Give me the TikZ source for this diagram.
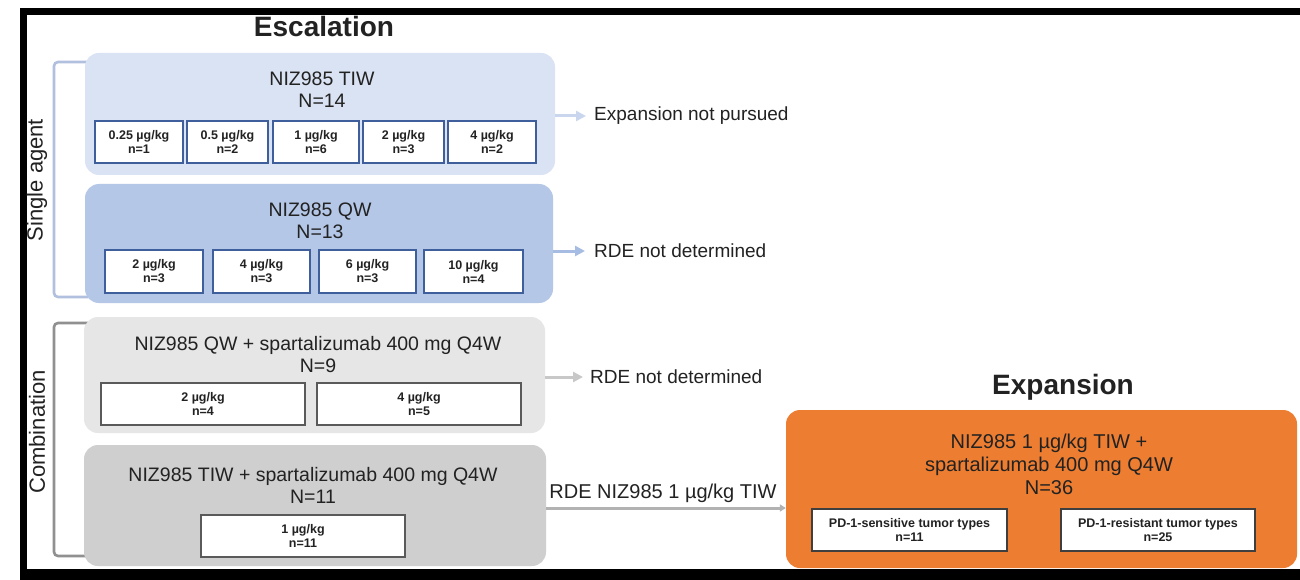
\documentclass[tikz,border=0pt]{standalone}
\usepackage{fontspec}
\setmainfont{Liberation Sans}
\usetikzlibrary{arrows.meta}
\definecolor{bluelight}{HTML}{DAE3F3}
\definecolor{bluemid}{HTML}{B4C7E7}
\definecolor{greylight}{HTML}{E6E6E6}
\definecolor{greymid}{HTML}{D0CFCF}
\definecolor{orangebox}{HTML}{ED7D31}
\definecolor{blueline}{HTML}{3F5E9C}
\definecolor{greyline}{HTML}{5A5A5A}
\definecolor{txt}{HTML}{222222}
\definecolor{arrA}{HTML}{C9D6EE}
\definecolor{arrB}{HTML}{A6BCE2}
\definecolor{arrC}{HTML}{C8C8C8}
\definecolor{arrD}{HTML}{B2B2B2}
\definecolor{brA}{HTML}{B0C0DE}
\definecolor{brB}{HTML}{909090}
\tikzset{
  grp/.style={rounded corners=14pt, draw=none, inner sep=0pt},
  ttl/.style={font=\fontsize{19.5}{22}\selectfont, text=txt, align=center, inner sep=0pt},
  sub/.style={draw, fill=white, line width=1.4pt, inner sep=0pt, align=center,
              font=\bfseries\fontsize{12.5}{14}\selectfont, text=txt},
  side/.style={font=\fontsize{19}{22}\selectfont, text=txt, inner sep=0pt, anchor=west},
  arr/.style={line width=3pt, -{Triangle[length=10pt,width=10pt]}},
  brk/.style={line width=2.6pt, rounded corners=4pt},
  head/.style={font=\bfseries\fontsize{28}{32}\selectfont, text=txt, inner sep=0pt},
  rot/.style={font=\fontsize{22}{26}\selectfont, text=txt, rotate=90, inner sep=0pt}
}
\begin{document}
\begin{tikzpicture}[x=1pt,y=-1pt]
\useasboundingbox (0,0) rectangle (1300,580);
\fill[white] (0,0) rectangle (1300,580);
% frame
\fill[black] (20,8) rectangle (1300,15);
\fill[black] (20,8) rectangle (27,580);
\fill[black] (20,569) rectangle (1300,580);

% brackets
\draw[brk, brA] (88,62) -- (54,62) -- (54,297) -- (88,297);
\draw[brk, brB] (88,323) -- (54,323) -- (54,556) -- (88,556);
\node[rot] (lsa) at (37,180) {Single agent};
\node[rot] (lco) at (37,432) {Combination};

% headings
\node[head] (hesc) at (324,26) {Escalation};
\node[head] (hexp) at (1063,387) {Expansion};

% group boxes
\node[grp, fill=bluelight, minimum width=470pt, minimum height=122pt] (b1) at (320,114) {};
\node[grp, fill=bluemid, minimum width=468pt, minimum height=119pt] (b2) at (319,243.5) {};
\node[grp, fill=greylight, minimum width=461pt, minimum height=116pt] (b3) at (314.5,375) {};
\node[grp, fill=greymid, minimum width=462pt, minimum height=121pt] (b4) at (315,505.5) {};
\node[grp, fill=orangebox, minimum width=511pt, minimum height=158pt] (b5) at (1041.5,489) {};

% titles
\node[ttl] (t1) at (322,90) {NIZ985 TIW\\N=14};
\node[ttl] (t2) at (320,221) {NIZ985 QW\\N=13};
\node[ttl] (t3) at (318,355) {NIZ985 QW + spartalizumab 400 mg Q4W\\N=9};
\node[ttl] (t4) at (313,485.5) {NIZ985 TIW + spartalizumab 400 mg Q4W\\N=11};
\node[ttl, font=\fontsize{20}{23}\selectfont] (t5) at (1049,464) {NIZ985 1 µg/kg TIW +\\spartalizumab 400 mg Q4W\\N=36};

% sub boxes, single agent TIW
\node[sub, draw=blueline, minimum width=88pt, minimum height=42pt] (s11) at (139,142) {0.25 µg/kg\\n=1};
\node[sub, draw=blueline, minimum width=81pt, minimum height=42pt] (s12) at (227.5,142) {0.5 µg/kg\\n=2};
\node[sub, draw=blueline, minimum width=86pt, minimum height=42pt] (s13) at (316,142) {1 µg/kg\\n=6};
\node[sub, draw=blueline, minimum width=81pt, minimum height=42pt] (s14) at (403.5,142) {2 µg/kg\\n=3};
\node[sub, draw=blueline, minimum width=88pt, minimum height=42pt] (s15) at (492,142) {4 µg/kg\\n=2};
% QW
\node[sub, draw=blueline, minimum width=98pt, minimum height=43pt] (s21) at (154,271.5) {2 µg/kg\\n=3};
\node[sub, draw=blueline, minimum width=97pt, minimum height=43pt] (s22) at (261.5,271.5) {4 µg/kg\\n=3};
\node[sub, draw=blueline, minimum width=97pt, minimum height=43pt] (s23) at (367.5,271.5) {6 µg/kg\\n=3};
\node[sub, draw=blueline, minimum width=99pt, minimum height=43pt] (s24) at (473.5,271.5) {10 µg/kg\\n=4};
% combination QW
\node[sub, draw=greyline, minimum width=204pt, minimum height=42pt] (s31) at (203,404) {2 µg/kg\\n=4};
\node[sub, draw=greyline, minimum width=204pt, minimum height=42pt] (s32) at (419,404) {4 µg/kg\\n=5};
% combination TIW
\node[sub, draw=greyline, minimum width=204pt, minimum height=42pt] (s41) at (303,536) {1 µg/kg\\n=11};
% expansion
\node[sub, draw=greyline!70!black, minimum width=195pt, minimum height=42pt] (s51) at (909.5,530) {PD-1-sensitive tumor types\\n=11};
\node[sub, draw=greyline!70!black, minimum width=194pt, minimum height=42pt] (s52) at (1158,530) {PD-1-resistant tumor types\\n=25};

% outcome labels
\node[side] (o1) at (594,116) {Expansion not pursued};
\node[side] (o2) at (594,251) {RDE not determined};
\node[side] (o3) at (590,377) {RDE not determined};
\node[font=\fontsize{20}{23}\selectfont, text=txt, inner sep=0pt] (o4) at (663,493) {RDE NIZ985 1 µg/kg TIW};

% connectors
\draw[arr, arrA] (b1.east |- o1.west) -- ([xshift=-8pt]o1.west);
\draw[arr, arrB] (b2.east |- o2.west) -- ([xshift=-9pt]o2.west);
\draw[arr, arrC] (b3.east |- o3.west) -- ([xshift=-7pt]o3.west);
\draw[line width=3pt, arrD, -{Triangle[length=6pt,width=7pt]}] ([yshift=-2.5pt]b4.east) -- ([yshift=-19pt]b5.west);
\end{tikzpicture}
\end{document}
